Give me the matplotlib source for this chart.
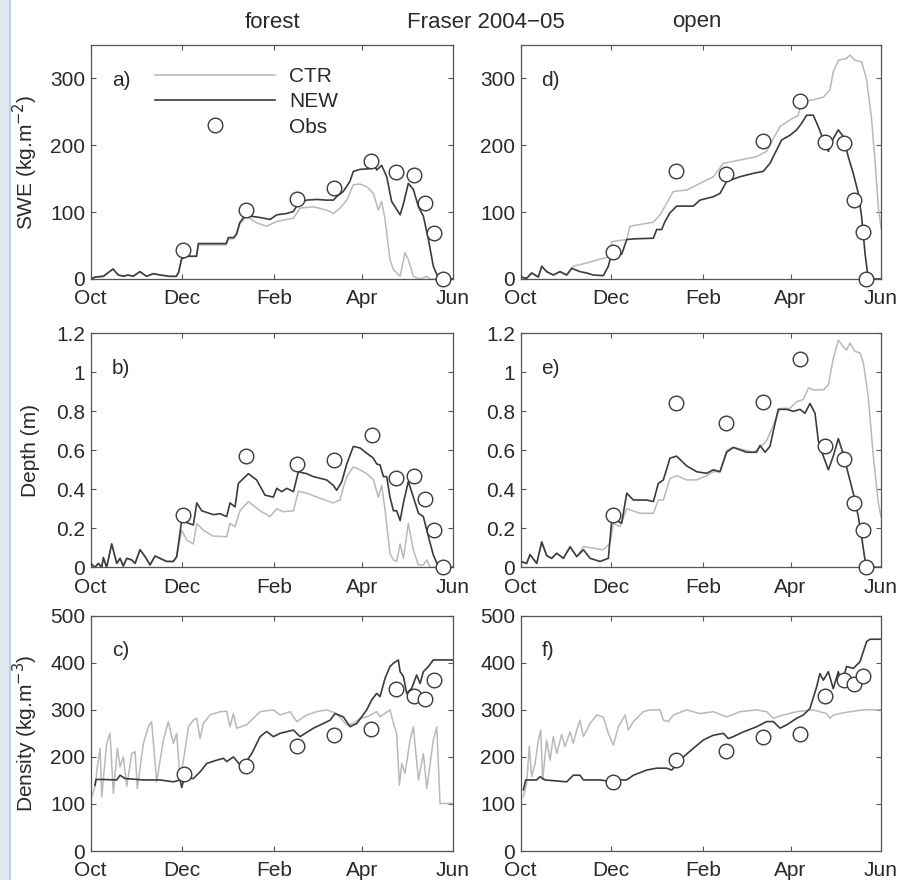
import matplotlib
matplotlib.use("Agg")
import matplotlib.pyplot as plt
from matplotlib.lines import Line2D
from matplotlib.patches import Rectangle

plt.rcParams['font.family'] = ['Liberation Sans', 'DejaVu Sans']

# ---- x axis: days since 1 Oct 2004 ----
month_ticks = [0, 61, 123, 182, 243]
month_labels = ['Oct', 'Dec', 'Feb', 'Apr', 'Jun']

# ---------------- (a) forest SWE ----------------
a_new_d = [0, 3, 8.5, 15, 18.5, 22, 25, 28.5, 33, 37.5, 42, 46.5, 53, 57.5, 59, 61, 64, 71, 72.3, 78,
           91, 92.4, 96, 98, 100, 103.6, 107, 113.7, 120.4, 124.9, 131.6, 136, 139.4, 145, 152, 158, 163, 165,
           169.6, 174, 176.3, 180.8, 187.5, 189.7, 192, 195.3, 198.7, 202, 204.3, 207.7, 210, 213.2, 216.6,
           220, 223.3, 226.7, 230, 233.4, 236.7, 243]
a_new_v = [0, 3, 4, 15, 6, 4, 6, 4, 11, 4, 8, 6, 4, 4, 10, 30, 34, 34, 53, 53,
           53, 62, 62, 68, 84, 95, 94, 92, 89, 96, 98, 101, 113, 118, 119, 118, 118, 123,
           131, 146, 161, 164, 165, 173, 163, 170, 153, 116, 108, 96, 113, 143, 134,
           108, 94, 59, 19, 1, 0, 0]
a_ctr_d = [0, 3, 8.5, 15, 18.5, 22, 25, 28.5, 33, 37.5, 42, 46.5, 53, 57.5, 59, 61, 64, 71, 72.3, 78,
           91, 92.4, 96, 98, 100, 104.7, 111.4, 118.1, 124.9, 136.1, 140.5, 149.5, 158.4, 162.9, 167.4,
           171.9, 176.3, 180.8, 185.3, 189.7, 193.1, 195.3, 197.6, 200.9, 203.2, 207.7, 211, 213.2, 216.6,
           221.1, 225.6, 227.8, 243]
a_ctr_v = [0, 3, 4, 15, 6, 4, 6, 4, 11, 4, 8, 6, 4, 4, 10, 30, 34, 34, 51, 51,
           51, 60, 60, 66, 82, 94, 84, 79, 86, 91, 106, 108, 103, 98, 106,
           118, 141, 142, 138, 128, 103, 116, 89, 29, 14, 4, 39, 29, 4,
           0, 4, 0, 0]
a_obs_d = [62.2, 104, 138.5, 163, 188, 205, 217, 224.7, 230.5, 236.3]
a_obs_v = [44, 103, 119, 136, 176, 160, 156, 113, 69, 0]

# ---------------- (d) open SWE ----------------
d_new_d = [0, 4, 7.4, 11.9, 14.2, 17.5, 22, 26.5, 31, 34.4, 40, 44.5, 49, 55.7, 59.1, 61.4, 64.7, 68.1,
           71.5, 76, 89.5, 91.7, 95.1, 97.3, 100.7, 105.2, 116.4, 120.9, 129.9, 134.4, 138.9, 147.9, 156.9,
           163.6, 168.1, 172.6, 176, 181.6, 186.1, 189.5, 192.8, 197.3, 200.7, 204.1, 207.5, 210.8, 214.2,
           217.6, 220.9, 224.3, 227.7, 229.9, 232.2, 234.4, 243]
d_new_v = [3, 1, 9, 3, 19, 11, 6, 11, 6, 16, 11, 9, 6, 5, 19, 39, 36, 37,
           59, 60, 61, 74, 74, 86, 99, 109, 109, 118, 123, 128, 146, 153, 158,
           161, 173, 193, 208, 215, 223, 233, 245, 245, 228, 208, 191, 210, 223,
           213, 183, 158, 128, 94, 39, 0, 0]
d_ctr_d = [0, 4, 7.4, 11.9, 14.2, 17.5, 22, 26.5, 31, 35.5, 44.5, 55.7, 60.2, 61.4, 71.5, 73.7, 89.5,
           94, 98.4, 102.9, 111.9, 120.9, 129.9, 136.7, 147.9, 159.1, 165.9, 170.4, 174.9, 181.6, 187.2,
           189.5, 197.3, 204.1, 208.6, 210.8, 214.2, 219.8, 222.1, 225.4, 229.9, 233.3, 236.7, 238.9,
           241.2, 243]
d_ctr_v = [3, 1, 9, 3, 19, 11, 6, 11, 6, 19, 24, 31, 33, 56, 59, 79, 85,
           96, 113, 131, 133, 143, 153, 173, 178, 183, 191, 210, 228, 238, 245,
           265, 268, 272, 283, 310, 327, 330, 335, 327, 325, 298, 238, 178,
           108, 76]
d_obs_d = [62.5, 104.5, 138.5, 163.2, 188.4, 205.4, 218, 224.8, 230.6, 232.9]
d_obs_v = [40, 162, 157, 207, 266, 205, 204, 118, 71, 0]

# ---------------- (b) forest depth ----------------
b_new_d = [0, 2.9, 5.1, 7.4, 8.5, 10.7, 14.1, 17.5, 19.7, 21.9, 24.2, 27.5, 29.8, 33.1, 36.5, 39.8,
           43.2, 46.5, 51, 55.5, 57.7, 61.1, 65.6, 68.9, 71.2, 74.5, 82.3, 86.8, 91.3, 93.5, 96.9, 99.1,
           105.8, 111.4, 117, 122.6, 124.9, 128.2, 131.6, 136.1, 139.4, 145, 149.5, 158.4, 162.9, 165.1,
           168.5, 171.9, 176.3, 180.8, 185.3, 189.7, 192, 194.2, 196.5, 198.7, 200.9, 203.2, 205.4, 207.7,
           209.9, 213.2, 216.6, 220, 223.3, 226.7, 230, 233.4, 236.7, 243]
b_new_v = [0.02, 0, 0.02, 0, 0.05, 0, 0.12, 0.02, 0.046, 0.007, 0.046, 0.038, 0.02, 0.09, 0.055, 0.012,
           0.058, 0.046, 0.03, 0.03, 0.055, 0.24, 0.226, 0.217, 0.33, 0.29, 0.27, 0.275, 0.26, 0.33, 0.31, 0.43,
           0.48, 0.448, 0.37, 0.36, 0.405, 0.388, 0.405, 0.388, 0.49, 0.48, 0.465, 0.448, 0.42, 0.395,
           0.438, 0.53, 0.62, 0.612, 0.585, 0.56, 0.53, 0.525, 0.465, 0.465, 0.36, 0.29, 0.29, 0.24,
           0.33, 0.44, 0.36, 0.277, 0.26, 0.157, 0.063, 0.003, 0, 0]
b_ctr_d = [0, 2.9, 5.1, 7.4, 8.5, 10.7, 14.1, 17.5, 19.7, 21.9, 24.2, 27.5, 29.8, 33.1, 36.5, 39.8,
           43.2, 46.5, 51, 55.5, 57.7, 61.1, 64.4, 68.9, 71.2, 75.6, 82.3, 91.3, 93.5, 96.9, 100.2, 105.8,
           113.7, 120.4, 124.9, 129.3, 136.1, 139.4, 145, 153.9, 162.9, 167.4, 169.6, 171.9, 176.3, 180.8,
           185.3, 189.7, 193.1, 195.3, 197.6, 200.9, 203.2, 205.4, 207.7, 209.9, 213.2, 216.6, 220, 223.3,
           225.6, 227.8, 243]
b_ctr_v = [0.02, 0, 0.02, 0, 0.05, 0, 0.12, 0.02, 0.046, 0.007, 0.046, 0.038, 0.02, 0.09, 0.055, 0.012,
           0.058, 0.046, 0.03, 0.03, 0.05, 0.19, 0.14, 0.12, 0.225, 0.19, 0.16, 0.157, 0.225, 0.208, 0.29, 0.337,
           0.29, 0.26, 0.30, 0.285, 0.29, 0.39, 0.38, 0.354, 0.33, 0.346, 0.41, 0.465, 0.515, 0.50,
           0.48, 0.45, 0.36, 0.42, 0.295, 0.07, 0.038, 0.03, 0.12, 0.046, 0.225, 0.09, 0.012, 0.012,
           0.038, 0, 0]
b_obs_d = [62.2, 104, 138.7, 163, 188.6, 205, 217, 224.7, 230.5, 236.3]
b_obs_v = [0.27, 0.57, 0.53, 0.55, 0.68, 0.46, 0.47, 0.35, 0.19, 0.0]

# ---------------- (e) open depth ----------------
e_new_d = [0, 4, 6.3, 10.8, 14.2, 17.5, 20.9, 24.3, 28.8, 33.3, 37.8, 42.3, 46.8, 53.5, 59.1, 61.4,
           64.7, 68.1, 71.5, 76, 85, 89.5, 92.8, 96.2, 100.7, 105.2, 111.9, 118.7, 125.4, 129.9, 134.4,
           138.9, 143.4, 152.4, 159.1, 161.4, 164.8, 168.1, 170.4, 173.7, 179.4, 183.9, 188.4, 191.7,
           195.1, 198.5, 200.7, 204.1, 207.5, 210.8, 214.2, 217.6, 220.9, 224.3, 227.7, 229.9, 232.2,
           234.4, 243]
e_new_v = [0.03, 0.02, 0.065, 0.02, 0.13, 0.06, 0.046, 0.072, 0.046, 0.105, 0.055, 0.09, 0.046, 0.03,
           0.046, 0.24, 0.24, 0.226, 0.38, 0.345, 0.345, 0.337, 0.43, 0.448, 0.56, 0.57, 0.52, 0.49, 0.482,
           0.5, 0.49, 0.59, 0.615, 0.59, 0.59, 0.625, 0.59, 0.62, 0.70, 0.81, 0.81, 0.80, 0.81, 0.79,
           0.84, 0.79, 0.65, 0.57, 0.50, 0.57, 0.66, 0.58, 0.48, 0.38, 0.26, 0.157, 0.038,
           0, 0]
e_ctr_d = [0, 4, 6.3, 10.8, 14.2, 17.5, 20.9, 24.3, 28.8, 33.3, 37.8, 42.3, 49, 55.7, 60.2, 62.5,
           67, 71.5, 80.5, 89.5, 92.8, 96.2, 100.7, 105.2, 111.9, 118.7, 125.4, 129.9, 134.4, 138.9,
           143.4, 156.9, 161.4, 165.9, 170.4, 174.9, 181.6, 186.1, 190.6, 194, 197.3, 204.1, 207.5,
           210.8, 214.2, 217.6, 219.8, 222.1, 225.4, 228.8, 231.1, 234.4, 237.8, 241.2, 243]
e_ctr_v = [0.03, 0.02, 0.065, 0.02, 0.13, 0.06, 0.046, 0.072, 0.046, 0.105, 0.055, 0.106, 0.098, 0.09,
           0.123, 0.225, 0.21, 0.30, 0.277, 0.277, 0.345, 0.345, 0.455, 0.47, 0.448, 0.448, 0.47, 0.49,
           0.49, 0.60, 0.615, 0.59, 0.615, 0.65, 0.73, 0.815, 0.815, 0.85, 0.86, 0.92, 0.91, 0.91, 0.935,
           1.07, 1.165, 1.13, 1.115, 1.15, 1.107, 1.10, 1.05, 0.875, 0.57, 0.33, 0.26]
e_obs_d = [62.5, 104.5, 138.5, 163.2, 188.4, 205.4, 218, 224.8, 230.6, 232.9]
e_obs_v = [0.27, 0.84, 0.74, 0.85, 1.07, 0.62, 0.555, 0.33, 0.19, 0.0]

# ---------------- (c) forest density ----------------
c_new_d = [2.9, 3.6, 8.5, 17.5, 19.7, 23, 35.4, 46.5, 55.5, 60, 61.1, 62.7, 68.9, 73.4, 77.9, 84.6,
           89.1, 91.3, 95.8, 100.2, 103.6, 108.1, 113.7, 118.1, 122.6, 127.1, 136.1, 140.5, 149.5, 156.2,
           160.7, 164, 169.6, 174.1, 178.6, 181.9, 185.3, 188.6, 192, 194.2, 197.6, 200.9, 203.2, 206.5,
           207.7, 209.9, 212.1, 215.5, 218.8, 221.1, 223.3, 226.7, 230, 243]
c_new_v = [140, 152, 152, 151, 161, 154, 151, 151, 147, 151, 135, 154, 154, 168, 186, 193,
           197, 190, 200, 183, 186, 207, 243, 254, 243, 250, 257, 243, 261, 271,
           278, 292, 285, 264, 271, 285, 300, 321, 335, 328, 367, 392, 399, 406,
           381, 371, 335, 346, 374, 356, 381, 392, 406, 406]
c_ctr_d = [0.7, 2.9, 4.5, 6.3, 7.4, 10.7, 13, 15.2, 17.9, 19.7, 21.9, 24.2, 27.5, 29.8, 31.3, 35.4,
           38.7, 40.9, 44.3, 48.8, 52.1, 55.5, 57.7, 60, 63.3, 65.6, 68.9, 71.2, 73.4, 75.6, 80.1, 86.8,
           91.3, 93.5, 95.8, 98, 104.7, 109.2, 113.7, 122.6, 127.1, 133.8, 138.3, 145, 151.7, 158.4, 165.1,
           171.9, 176.3, 180.8, 185.3, 192, 194.2, 200.9, 203.2, 205.4, 207.2, 208.8, 211, 214.4, 216.6,
           220, 223.3, 225.6, 230, 232.3, 234.5, 243]
c_ctr_v = [115, 137, 179, 218, 115, 229, 250, 122, 218, 179, 200, 137, 207, 211, 133, 229,
           264, 275, 147, 236, 275, 229, 250, 151, 214, 264, 278, 282, 239, 271, 289, 296,
           297, 264, 292, 261, 268, 282, 296, 300, 289, 296, 275, 289, 296, 300, 292,
           268, 271, 282, 285, 296, 285, 300, 271, 250, 140, 186, 165, 236, 264,
           151, 207, 133, 236, 264, 101, 101]
c_obs_d = [62.7, 104.3, 138.3, 163, 188, 205, 217, 224.7, 230.5]
c_obs_v = [164, 181, 223, 246, 259, 344, 330, 322, 363]

# ---------------- (f) open density ----------------
f_new_d = [1.8, 3.4, 10.8, 13, 16.4, 31, 35.5, 40, 42.3, 53.5, 62.5, 67, 71.5, 76, 85, 91.7, 98.4,
           101.8, 105.2, 109.7, 116.4, 123.2, 129.9, 136.7, 140, 143.4, 150.1, 159.1, 165.9, 170.4, 174.9,
           179.4, 186.1, 190.6, 195.1, 199.6, 201.8, 204.1, 207.5, 210.8, 214.2, 216.5, 219.8, 224.3,
           228.8, 233.3, 235.6, 243]
f_new_v = [130, 151, 151, 158, 151, 147, 161, 161, 151, 151, 147, 151, 151, 161, 172, 176, 176,
           172, 183, 200, 218, 236, 246, 250, 239, 243, 253, 264, 275, 275, 261,
           268, 282, 289, 303, 349, 377, 363, 381, 345, 381, 356, 392, 388,
           402, 445, 450, 450]
f_ctr_d = [1.8, 4, 5.8, 7.4, 9.7, 11.9, 13.5, 14.8, 17.5, 19.8, 22, 24.3, 27.6, 29.9, 33.3, 35.5,
           37.8, 40, 42.3, 46.8, 51.2, 55.7, 59.1, 62.5, 65.9, 70.4, 72.6, 76, 82.7, 87.2, 94, 96.2, 99.6,
           102.9, 111.9, 120.9, 129.9, 138.9, 147.9, 159.1, 165.9, 170.4, 177.1, 186.1, 197.3, 206.3,
           208.6, 210.8, 215.3, 222.1, 231.1, 243]
f_ctr_v = [115, 144, 222, 158, 186, 236, 257, 151, 236, 193, 243, 207, 247, 222, 253, 229,
           257, 278, 243, 271, 289, 285, 250, 225, 264, 289, 257, 275, 296, 300, 300, 278, 275,
           289, 300, 292, 296, 285, 296, 300, 296, 282, 289, 296, 300, 292,
           282, 289, 292, 296, 300, 300]
f_obs_d = [62.5, 104.5, 138.5, 163.2, 188.4, 205.4, 218, 224.8, 230.6]
f_obs_v = [147, 193, 212, 243, 248, 330, 363, 355, 372]

# ---------------- figure ----------------
CTR_C = '#b9b9b9'
NEW_C = '#3c3c3c'
TXT_C = '#2a2a2a'
FS = 15
FS_TITLE = 16

fig = plt.figure(figsize=(9.01, 8.80), dpi=100)
fig.patches.append(Rectangle((0, 0), 9 / 901, 1, transform=fig.transFigure,
                             facecolor='#dde8f3', edgecolor='none', zorder=-10))
fig.patches.append(Rectangle((9 / 901, 0), 1.5 / 901, 1, transform=fig.transFigure,
                             facecolor='#b9d3ec', edgecolor='none', zorder=-10))

lefts = [90.7 / 901, 520.7 / 901]
widths = [362 / 901, 360.3 / 901]
rows = [(1 - 279 / 880, 234 / 880), (1 - 567.3 / 880, 234 / 880), (1 - 851 / 880, 235.3 / 880)]

panels = [
    # row, col, ctr, new, obs, ylim, yticks, yticklabels, label
    (0, 0, (a_ctr_d, a_ctr_v), (a_new_d, a_new_v), (a_obs_d, a_obs_v), 350, [0, 100, 200, 300],
     ['0', '100', '200', '300'], 'a)'),
    (0, 1, (d_ctr_d, d_ctr_v), (d_new_d, d_new_v), (d_obs_d, d_obs_v), 350, [0, 100, 200, 300],
     ['0', '100', '200', '300'], 'd)'),
    (1, 0, (b_ctr_d, b_ctr_v), (b_new_d, b_new_v), (b_obs_d, b_obs_v), 1.2,
     [0, 0.2, 0.4, 0.6, 0.8, 1.0, 1.2], ['0', '0.2', '0.4', '0.6', '0.8', '1', '1.2'], 'b)'),
    (1, 1, (e_ctr_d, e_ctr_v), (e_new_d, e_new_v), (e_obs_d, e_obs_v), 1.2,
     [0, 0.2, 0.4, 0.6, 0.8, 1.0, 1.2], ['0', '0.2', '0.4', '0.6', '0.8', '1', '1.2'], 'e)'),
    (2, 0, (c_ctr_d, c_ctr_v), (c_new_d, c_new_v), (c_obs_d, c_obs_v), 500,
     [0, 100, 200, 300, 400, 500], ['0', '100', '200', '300', '400', '500'], 'c)'),
    (2, 1, (f_ctr_d, f_ctr_v), (f_new_d, f_new_v), (f_obs_d, f_obs_v), 500,
     [0, 100, 200, 300, 400, 500], ['0', '100', '200', '300', '400', '500'], 'f)'),
]

axes = {}
for r, c, ctr, new, obs, ytop, yt, ytl, lab in panels:
    b, h = rows[r]
    ax = fig.add_axes([lefts[c], b, widths[c], h])
    axes[(r, c)] = ax
    ax.plot(ctr[0], ctr[1], color=CTR_C, lw=1.1, zorder=2)
    ax.plot(new[0], new[1], color=NEW_C, lw=1.2, zorder=3)
    ax.plot(obs[0], obs[1], ls='none', marker='o', ms=10.5, mfc='white', mec='#3a3a3a',
            mew=1.0, zorder=4, clip_on=False)
    ax.set_xlim(0, 243)
    ax.set_ylim(0, ytop)
    ax.set_xticks(month_ticks)
    ax.set_xticklabels(month_labels)
    ax.set_yticks(yt)
    ax.set_yticklabels(ytl)
    ax.tick_params(direction='in', length=3.5, width=0.8, colors='#555555', labelcolor=TXT_C,
                   labelsize=FS, top=True, right=True)
    ax.tick_params(axis='x', pad=7.5)
    ax.tick_params(axis='y', pad=4)
    for s in ax.spines.values():
        s.set_color('#555555')
        s.set_linewidth(0.9)
    ax.text(0.058, 0.85, lab, transform=ax.transAxes, fontsize=FS, color=TXT_C,
            ha='left', va='center')

for r, txt in [(0, 'SWE (kg.m$^{-2}$)'), (1, 'Depth (m)'), (2, 'Density (kg.m$^{-3}$)')]:
    ax = axes[(r, 0)]
    ax.set_ylabel(txt, fontsize=FS, color=TXT_C)
    ax.yaxis.set_label_coords(-0.141, 0.5)

handles = [Line2D([], [], color=CTR_C, lw=1.1),
           Line2D([], [], color=NEW_C, lw=1.2),
           Line2D([], [], ls='none', marker='o', ms=10.5, mfc='white', mec='#3a3a3a', mew=1.0)]
axes[(0, 0)].legend(handles, ['CTR', 'NEW', 'Obs'], loc='upper left', bbox_to_anchor=(0.178, 0.905),
                    frameon=False, fontsize=FS, handlelength=5.77, handletextpad=0.67,
                    labelspacing=0.3, borderpad=0.0, borderaxespad=0.0, labelcolor=TXT_C)

fig.text(272 / 901, 1 - 22 / 880, 'forest', ha='center', va='center', fontsize=FS_TITLE, color=TXT_C)
fig.text(486 / 901, 1 - 22 / 880, 'Fraser 2004\u221205', ha='center', va='center', fontsize=FS_TITLE,
         color=TXT_C)
fig.text(697 / 901, 1 - 22 / 880, 'open', ha='center', va='center', fontsize=FS_TITLE, color=TXT_C)

fig.savefig('out.png', dpi=100, facecolor='white')
